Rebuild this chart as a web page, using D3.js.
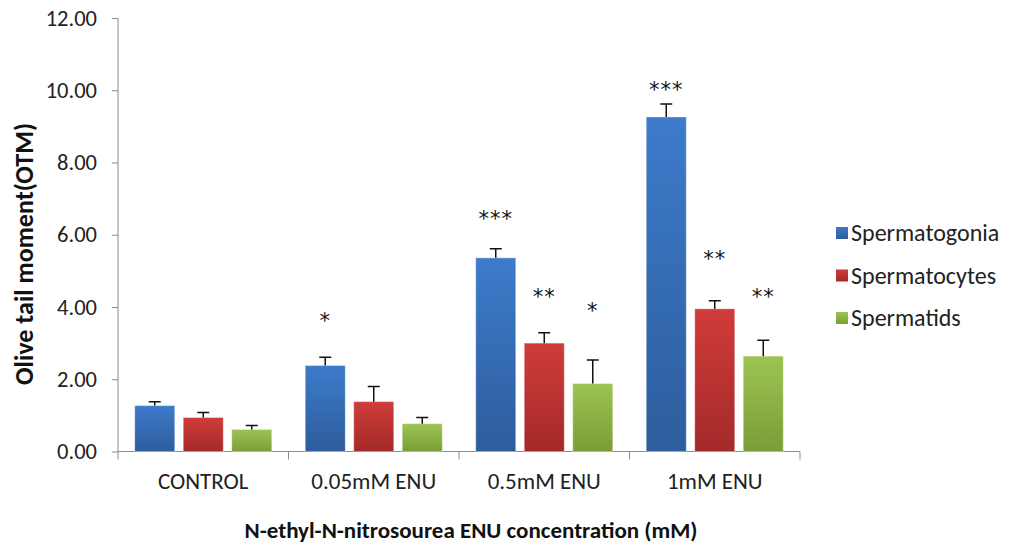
<!DOCTYPE html>
<html>
<head>
<meta charset="utf-8">
<script src="https://cdn.jsdelivr.net/npm/d3@7"></script>
<style>
  body { margin: 0; background: #fff; }
  svg { display: block; font-family: Carlito, Lato, sans-serif; }
</style>
</head>
<body>
<svg id="chart" width="1011" height="548"></svg>
<script>
const categories = ['CONTROL', '0.05mM ENU', '0.5mM ENU', '1mM ENU'];
const series = ['Spermatogonia', 'Spermatocytes', 'Spermatids'];

// means and upper error (mean + SE) per series, by category
const spermatogonia = [1.27, 2.38, 5.36, 9.26];
const spermatocytes = [0.94, 1.38, 3.00, 3.95];
const spermatids    = [0.61, 0.77, 1.88, 2.64];
const errGonia  = [0.11, 0.23, 0.25, 0.36];
const errCytes  = [0.14, 0.42, 0.29, 0.22];
const errTids   = [0.11, 0.17, 0.65, 0.44];

// significance marks and the level (in OTM units) where they sit
const stars     = [['', '*', '***', '***'], ['', '', '**', '**'], ['', '', '*', '**']];
const starLevel = [[0, 3.72, 6.55, 10.12], [0, 0, 4.39, 5.44], [0, 0, 4.0, 4.39]];

const yTicks = [0, 2, 4, 6, 8, 10, 12];

const values = [spermatogonia, spermatocytes, spermatids];
const errors = [errGonia, errCytes, errTids];
const colors = [['#3d7bcb', '#2d5d9c'], ['#d03c3a', '#a32a29'], ['#9cc452', '#7a9d36']];

const svg = d3.select('#chart');
const mLeft = 118, mRight = 800, mTop = 18, mBottom = 451.5;

const x0 = d3.scaleBand().domain(categories).range([mLeft, mRight]);
const x1 = d3.scaleBand().domain(series).range([0, x0.bandwidth()])
	.paddingInner(0.175).paddingOuter(0.345);
const y = d3.scaleLinear().domain([0, 12]).range([mBottom, mTop]);

const defs = svg.append('defs');
colors.forEach((c, i) => {
	const g = defs.append('linearGradient').attr('id', 'grad' + i)
		.attr('x1', 0).attr('y1', 0).attr('x2', 0).attr('y2', 1);
	g.append('stop').attr('offset', '0%').attr('stop-color', c[0]);
	g.append('stop').attr('offset', '100%').attr('stop-color', c[1]);
});

// y axis
const yAxis = svg.append('g')
	.attr('transform', `translate(${mLeft},0)`)
	.call(d3.axisLeft(y).tickValues(yTicks).tickFormat(d3.format('.2f')).tickSize(6).tickPadding(15));
yAxis.select('.domain').attr('stroke', '#8c8c8c').attr('d', `M0,${mTop}V${mBottom + 0.5}`);
yAxis.selectAll('.tick line').attr('stroke', '#8c8c8c');
yAxis.selectAll('.tick text').attr('font-size', 22.5).attr('fill', '#222')
	.attr('font-family', 'Carlito, Lato, sans-serif');

// x axis
const xg = svg.append('g').attr('transform', `translate(0,${mBottom})`);
xg.append('line').attr('x1', mLeft).attr('x2', mRight).attr('stroke', '#8c8c8c');
const bounds = categories.map(c => x0(c)).concat([mRight]);
xg.selectAll('line.tk').data(bounds).join('line').attr('class', 'tk')
	.attr('x1', d => d).attr('x2', d => d).attr('y1', 0).attr('y2', 8).attr('stroke', '#8c8c8c');
xg.selectAll('text').data(categories).join('text')
	.attr('x', d => x0(d) + x0.bandwidth() / 2).attr('y', 37)
	.attr('text-anchor', 'middle').attr('font-size', 23).attr('fill', '#222').text(d => d);

// bars
series.forEach((s, i) => {
	const g = svg.append('g');
	g.selectAll('rect').data(categories).join('rect')
		.attr('x', c => x0(c) + x1(s))
		.attr('y', (c, j) => y(values[i][j]))
		.attr('width', x1.bandwidth())
		.attr('height', (c, j) => y(0) - y(values[i][j]))
		.attr('fill', `url(#grad${i})`)
		.attr('stroke', 'rgba(255,255,255,0.35)').attr('stroke-width', 1);
	// error bars
	g.selectAll('path.err').data(categories).join('path').attr('class', 'err')
		.attr('d', (c, j) => {
			const cx = x0(c) + x1(s) + x1.bandwidth() / 2;
			const y0 = y(values[i][j]), y1 = y(values[i][j] + errors[i][j]);
			return `M${cx},${y0}V${y1}M${cx - 6},${y1}H${cx + 6}`;
		})
		.attr('stroke', '#111').attr('stroke-width', 1.5).attr('fill', 'none');
	// significance
	g.selectAll('text.star').data(categories).join('text').attr('class', 'star')
		.attr('x', c => x0(c) + x1(s) + x1.bandwidth() / 2)
		.attr('y', (c, j) => y(starLevel[i][j]) + 11)
		.attr('text-anchor', 'middle').attr('font-size', 21).attr('letter-spacing', 1)
		.attr('fill', '#111').attr('font-family', 'DejaVu Sans, sans-serif')
		.text((c, j) => stars[i][j]);
});

// legend
const lg = svg.append('g').attr('transform', 'translate(836,233)');
series.forEach((s, i) => {
	const row = lg.append('g').attr('transform', `translate(0,${i * 42.5})`);
	row.append('rect').attr('x', 0).attr('y', -6).attr('width', 12).attr('height', 12)
		.attr('fill', `url(#grad${i})`);
	row.append('text').attr('x', 15).attr('y', 0).attr('dy', '0.35em')
		.attr('font-size', 24).attr('fill', '#222').text(s);
});

// axis titles
svg.append('text').attr('transform', 'translate(33,254) rotate(-90)')
	.attr('text-anchor', 'middle').attr('font-size', 26).attr('font-weight', 'bold')
	.attr('fill', '#111').text('Olive tail moment(OTM)');
svg.append('text').attr('x', 471).attr('y', 538)
	.attr('text-anchor', 'middle').attr('font-size', 23).attr('font-weight', 'bold')
	.attr('fill', '#111').text('N-ethyl-N-nitrosourea  ENU concentration (mM)');
</script>
</body>
</html>
